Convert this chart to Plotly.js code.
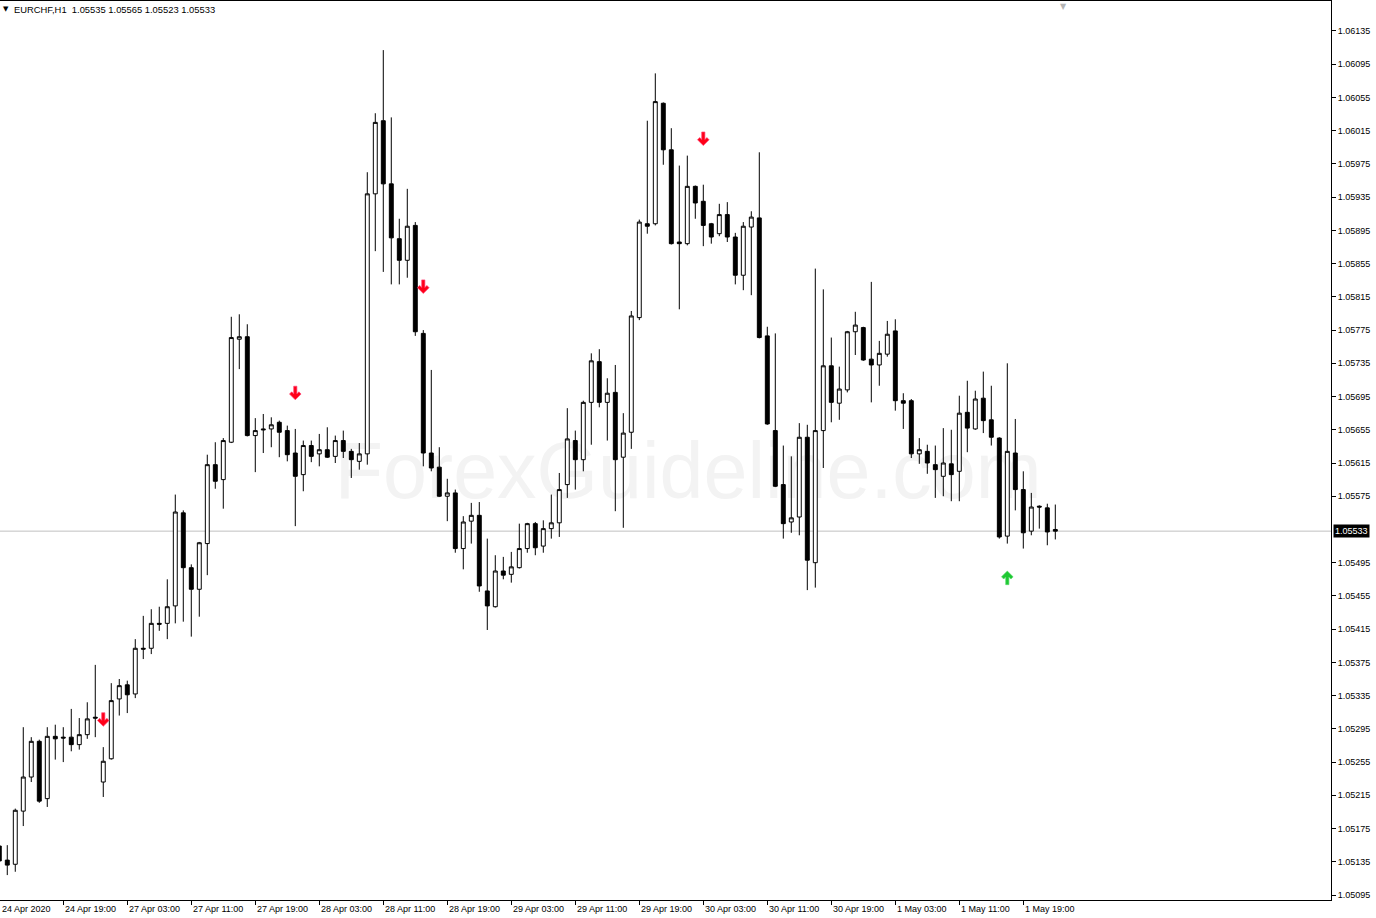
<!DOCTYPE html>
<html><head><meta charset="utf-8">
<script src="https://cdn.plot.ly/plotly-3.0.1.min.js"></script>
<style>html,body{margin:0;padding:0;background:#fff;}#chart{width:1376px;height:918px;}</style>
</head><body><div id="chart"></div>
<script>
const symbol = 'EURCHF,H1';
const open = [1.05154,1.05137,1.05132,1.05196,1.05237,1.05280,1.05211,1.05286,1.05285,1.05285,1.05276,1.05288,1.05309,1.05231,1.05259,1.05331,1.05348,1.05337,1.05392,1.05392,1.05422,1.05422,1.05443,1.05555,1.05489,1.05463,1.05518,1.05613,1.05595,1.05640,1.05764,1.05767,1.05648,1.05656,1.05656,1.05664,1.05654,1.05627,1.05601,1.05636,1.05626,1.05631,1.05623,1.05642,1.05629,1.05617,1.05626,1.05939,1.06027,1.05951,1.05885,1.05859,1.05901,1.05771,1.05627,1.05610,1.05575,1.05579,1.05512,1.05545,1.05552,1.05461,1.05442,1.05485,1.05481,1.05489,1.05512,1.05542,1.05515,1.05536,1.05543,1.05589,1.05642,1.05619,1.05688,1.05737,1.05688,1.05700,1.05622,1.05652,1.05790,1.05903,1.05903,1.06048,1.05992,1.05881,1.05879,1.05948,1.05930,1.05903,1.05891,1.05914,1.05887,1.05841,1.05899,1.05910,1.05768,1.05654,1.05589,1.05544,1.05550,1.05646,1.05495,1.05654,1.05732,1.05687,1.05703,1.05773,1.05778,1.05740,1.05733,1.05746,1.05774,1.05690,1.05690,1.05626,1.05629,1.05613,1.05599,1.05614,1.05605,1.05676,1.05656,1.05693,1.05667,1.05645,1.05527,1.05627,1.05583,1.05533,1.05563,1.05561,1.05535];
const high = [1.05158,1.05155,1.05199,1.05297,1.05285,1.05282,1.05297,1.05300,1.05297,1.05319,1.05308,1.05327,1.05372,1.05273,1.05350,1.05355,1.05353,1.05403,1.05431,1.05439,1.05442,1.05475,1.05577,1.05558,1.05493,1.05520,1.05625,1.05640,1.05645,1.05791,1.05794,1.05782,1.05669,1.05674,1.05670,1.05666,1.05660,1.05656,1.05642,1.05642,1.05650,1.05658,1.05648,1.05654,1.05632,1.05639,1.05965,1.06036,1.06112,1.06031,1.05909,1.05945,1.05905,1.05775,1.05727,1.05634,1.05596,1.05583,1.05551,1.05567,1.05568,1.05524,1.05504,1.05502,1.05508,1.05542,1.05543,1.05544,1.05546,1.05577,1.05603,1.05681,1.05654,1.05690,1.05747,1.05752,1.05717,1.05733,1.05675,1.05798,1.05908,1.06027,1.06084,1.06049,1.06018,1.05973,1.05985,1.05949,1.05950,1.05904,1.05927,1.05929,1.05892,1.05905,1.05918,1.05989,1.05779,1.05771,1.05636,1.05623,1.05663,1.05661,1.05849,1.05824,1.05766,1.05731,1.05774,1.05797,1.05779,1.05833,1.05762,1.05786,1.05788,1.05699,1.05692,1.05645,1.05637,1.05636,1.05657,1.05655,1.05696,1.05714,1.05702,1.05725,1.05708,1.05646,1.05735,1.05668,1.05605,1.05579,1.05564,1.05566,1.05565];
const low = [1.05130,1.05119,1.05123,1.05178,1.05231,1.05206,1.05201,1.05258,1.05255,1.05268,1.05270,1.05283,1.05285,1.05213,1.05258,1.05311,1.05314,1.05332,1.05379,1.05385,1.05413,1.05403,1.05422,1.05424,1.05406,1.05430,1.05480,1.05584,1.05560,1.05639,1.05728,1.05647,1.05604,1.05627,1.05634,1.05622,1.05617,1.05539,1.05581,1.05616,1.05611,1.05621,1.05615,1.05621,1.05597,1.05607,1.05613,1.05870,1.05845,1.05830,1.05830,1.05838,1.05768,1.05611,1.05605,1.05574,1.05545,1.05507,1.05487,1.05518,1.05460,1.05414,1.05441,1.05475,1.05471,1.05488,1.05507,1.05504,1.05507,1.05524,1.05526,1.05573,1.05583,1.05605,1.05637,1.05682,1.05642,1.05557,1.05537,1.05632,1.05787,1.05891,1.05901,1.05974,1.05878,1.05800,1.05877,1.05909,1.05876,1.05879,1.05888,1.05881,1.05830,1.05823,1.05817,1.05765,1.05661,1.05586,1.05524,1.05531,1.05528,1.05462,1.05465,1.05609,1.05664,1.05667,1.05700,1.05745,1.05738,1.05688,1.05708,1.05743,1.05678,1.05656,1.05621,1.05614,1.05602,1.05573,1.05575,1.05569,1.05569,1.05628,1.05655,1.05651,1.05636,1.05524,1.05518,1.05558,1.05512,1.05528,1.05536,1.05516,1.05523];
const close = [1.05136,1.05131,1.05197,1.05237,1.05280,1.05208,1.05286,1.05283,1.05284,1.05276,1.05288,1.05307,1.05308,1.05256,1.05329,1.05347,1.05336,1.05392,1.05391,1.05422,1.05421,1.05442,1.05556,1.05489,1.05463,1.05519,1.05613,1.05593,1.05642,1.05766,1.05767,1.05648,1.05654,1.05655,1.05661,1.05652,1.05625,1.05599,1.05636,1.05623,1.05631,1.05622,1.05642,1.05629,1.05619,1.05626,1.05939,1.06025,1.05951,1.05886,1.05859,1.05900,1.05773,1.05627,1.05609,1.05575,1.05579,1.05512,1.05544,1.05552,1.05467,1.05443,1.05485,1.05480,1.05490,1.05512,1.05542,1.05513,1.05536,1.05543,1.05583,1.05644,1.05619,1.05688,1.05738,1.05688,1.05699,1.05619,1.05651,1.05792,1.05905,1.05900,1.06050,1.05992,1.05879,1.05879,1.05948,1.05928,1.05901,1.05887,1.05914,1.05887,1.05841,1.05900,1.05911,1.05766,1.05662,1.05587,1.05542,1.05549,1.05646,1.05498,1.05654,1.05732,1.05688,1.05704,1.05773,1.05781,1.05739,1.05733,1.05747,1.05770,1.05690,1.05687,1.05626,1.05631,1.05615,1.05607,1.05615,1.05601,1.05675,1.05657,1.05692,1.05666,1.05646,1.05526,1.05629,1.05583,1.05531,1.05562,1.05562,1.05532,1.05533];
const tickLabels = ['24 Apr 2020','24 Apr 19:00','27 Apr 03:00','27 Apr 11:00','27 Apr 19:00','28 Apr 03:00','28 Apr 11:00','28 Apr 19:00','29 Apr 03:00','29 Apr 11:00','29 Apr 19:00','30 Apr 03:00','30 Apr 11:00','30 Apr 19:00','1 May 03:00','1 May 11:00','1 May 19:00'];
const barsPerLabel = 8;
const priceTicks = [1.05095,1.05135,1.05175,1.05215,1.05255,1.05295,1.05335,1.05375,1.05415,1.05455,1.05495,1.05535,1.05575,1.05615,1.05655,1.05695,1.05735,1.05775,1.05815,1.05855,1.05895,1.05935,1.05975,1.06015,1.06055,1.06095,1.06135];
const sellBars = [13, 37, 53, 88];
const sellPrices = [1.05306, 1.05699, 1.05827, 1.06005];
const buyBars = [126];
const buyPrices = [1.05477];
const watermark = 'ForexGuideline.com';

const barIndex = open.map((_, i) => i);
const last = open.length - 1;
const FONT = 'Liberation Sans, Arial, sans-serif';
const xRange = [0.09, 166.46];

const traces = [{
  type: 'candlestick', x: barIndex, open: open, high: high, low: low, close: close,
  increasing: {line: {color: '#000000', width: 1}, fillcolor: '#ffffff'},
  decreasing: {line: {color: '#000000', width: 1}, fillcolor: '#000000'},
  whiskerwidth: 0, showlegend: false, hoverinfo: 'skip'
}];

// arrow glyph outlines (pixel offsets around the anchor, y up)
const downArrow = 'M-1.6,7 L1.6,7 L1.6,-0.6 L3.6,1.4 L5.8,-0.8 L0,-6.6 L-5.8,-0.8 L-3.6,1.4 L-1.6,-0.6 Z';
const upArrow = 'M-1.6,-7 L1.6,-7 L1.6,0.6 L3.6,-1.4 L5.8,0.8 L0,6.6 L-5.8,0.8 L-3.6,-1.4 L-1.6,0.6 Z';
const arrowShape = (bar, price, path, fill, edge) => ({
  type: 'path', xref: 'x', yref: 'y', xsizemode: 'pixel', ysizemode: 'pixel',
  xanchor: bar, yanchor: price, path: path, fillcolor: fill,
  line: {color: edge, width: 0.8}, layer: 'above'
});

const shapes = [
  {type: 'line', xref: 'paper', x0: 0, x1: 1, yref: 'y', y0: close[last], y1: close[last],
   line: {color: '#c0c0c0', width: 1}, layer: 'below'},
  {type: 'rect', xref: 'paper', x0: 0.25, x1: 0.784, yref: 'paper', y0: 0.44, y1: 0.53,
   line: {width: 0}, fillcolor: 'rgba(0,0,0,0)', layer: 'below',
   label: {text: watermark, font: {family: FONT, size: 79, color: '#f3f3f3'}, textposition: 'middle center'}}
];
sellBars.forEach((b, i) => shapes.push(arrowShape(b, sellPrices[i], downArrow, '#ff0018', 'rgba(255,70,120,0.85)')));
buyBars.forEach((b, i) => shapes.push(arrowShape(b, buyPrices[i], upArrow, '#1ec832', 'rgba(90,220,110,0.85)')));

const tickVals = tickLabels.map((_, i) => i * barsPerLabel);
const annotations = tickLabels.map((t, i) => ({
  xref: 'x', x: Math.max(i * barsPerLabel, xRange[0]), yref: 'paper', y: 0, xanchor: 'left', yanchor: 'top',
  xshift: 0, yshift: -2, text: t, showarrow: false, font: {family: FONT, size: 9, color: '#000'}
}));
annotations.push({
  xref: 'paper', x: 0, yref: 'paper', y: 1, xanchor: 'left', yanchor: 'top', xshift: 1, yshift: -2,
  text: '▼', showarrow: false, font: {family: 'DejaVu Sans', size: 7, color: '#000'}
});
annotations.push({
  xref: 'paper', x: 0, yref: 'paper', y: 1, xanchor: 'left', yanchor: 'top', xshift: 12, yshift: -1,
  text: symbol + '  ' + [open[last], high[last], low[last], close[last]].map(v => v.toFixed(5)).join(' '),
  showarrow: false, font: {family: FONT, size: 9.4, color: '#000'}
});
annotations.push({
  xref: 'paper', x: 1063 / 1331, yref: 'paper', y: 1, xanchor: 'center', yanchor: 'top', yshift: 1,
  text: '▼', showarrow: false, font: {family: 'DejaVu Sans', size: 8, color: '#b4b4b4'}
});
annotations.push({
  xref: 'paper', x: 1, yref: 'y', y: close[last], xanchor: 'left', yanchor: 'middle', xshift: 2,
  text: close[last].toFixed(5), showarrow: false, bgcolor: '#000000', borderpad: 1,
  font: {family: FONT, size: 9, color: '#ffffff'}
});

// the current-price box hides the scale label it covers
const shownTicks = priceTicks.filter(v => Math.abs(v - close[last]) > 0.00012);

const layout = {
  width: 1376, height: 918,
  margin: {l: 0, r: 45, t: 1, b: 18, pad: 0},
  paper_bgcolor: '#ffffff', plot_bgcolor: '#ffffff',
  showlegend: false, hovermode: false,
  xaxis: {
    type: 'linear', range: xRange, rangeslider: {visible: false},
    showgrid: false, zeroline: false, showline: true, linecolor: '#000', linewidth: 1, mirror: true,
    tickmode: 'array', tickvals: tickVals, showticklabels: false, ticks: 'outside', ticklen: 4, tickcolor: '#000', tickwidth: 1
  },
  yaxis: {
    side: 'right', range: [1.05089, 1.061711], showgrid: false, zeroline: false,
    showline: true, linecolor: '#000', linewidth: 1,
    tickmode: 'array', tickvals: shownTicks, ticktext: shownTicks.map(v => v.toFixed(5)),
    ticks: 'outside', ticklen: 4, tickcolor: '#000',
    tickfont: {family: FONT, size: 9, color: '#000'}
  },
  shapes: shapes,
  annotations: annotations
};

Plotly.newPlot('chart', traces, layout, {staticPlot: true, displayModeBar: false});
</script>
</body></html>
